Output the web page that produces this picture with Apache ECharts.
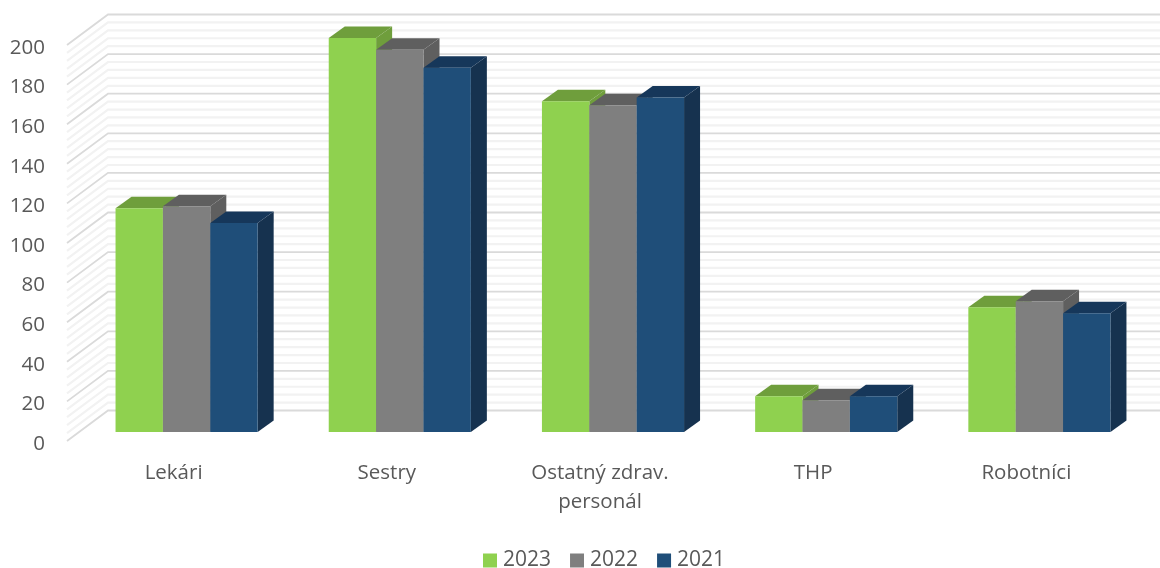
<!DOCTYPE html>
<html><head><meta charset="utf-8">
<script src="https://cdn.jsdelivr.net/npm/echarts@6/dist/echarts.min.js"></script>
<style>html,body{margin:0;padding:0;background:#fff}#c{width:1160px;height:568px}</style>
</head><body><div id="c"></div>
<script>
const categories = ['Lekári', 'Sestry', 'Ostatný zdrav.\npersonál', 'THP', 'Robotníci'];
const values2023 = [113, 199, 167, 18, 63];
const values2022 = [114, 193, 165, 16, 66];
const values2021 = [105.5, 184, 169, 18, 60];
const gridTicks = [0,4,8,12,16,20,24,28,32,36,40,44,48,52,56,60,64,68,72,76,80,84,88,92,96,100,
  104,108,112,116,120,124,128,132,136,140,144,148,152,156,160,164,168,172,176,180,184,188,192,196,200];

const WALL = {dx: 41, dy: -30.5};
const BAR = {dx: 13, dy: -9, depthX: 16, depthY: -11.5, widthFrac: 0.2222};
const FONT = '"Open Sans", sans-serif';
const TEXT = '#595959';

function wallSeries() {
  return {
    type: 'custom', name: 'wall', silent: true, z: 1, clip: false,
    legendHoverLink: false, tooltip: {show: false},
    encode: {y: 0},
    data: gridTicks.map(v => [v]),
    renderItem(params, api) {
      const v = api.value(0);
      const cs = params.coordSys;
      const y = api.coord([0, v])[1];
      const major = v % 20 === 0;
      return {
        type: 'polyline', silent: true,
        shape: {points: [[cs.x, y], [cs.x + WALL.dx, y + WALL.dy], [cs.x + cs.width + WALL.dx, y + WALL.dy]]},
        style: {fill: 'none', stroke: major ? '#dadada' : '#f2f2f2', lineWidth: major ? 1.8 : 2.2}
      };
    }
  };
}

function barSeries(name, values, index, front, top, side) {
  return {
    type: 'custom', name, z: 2 + index, clip: false,
    itemStyle: {color: front},
    encode: {x: 0, y: 1},
    data: values.map((v, i) => [i, v]),
    renderItem(params, api) {
      const base = api.coord([api.value(0), 0]);
      const peak = api.coord([api.value(0), api.value(1)]);
      const w = api.size([1, 0])[0] * BAR.widthFrac;
      const x0 = base[0] + BAR.dx - 1.5 * w + index * w;
      const x1 = x0 + w;
      const yb = base[1] + BAR.dy;
      const yt = peak[1] + BAR.dy;
      const dx = BAR.depthX, dy = BAR.depthY;
      return {
        type: 'group',
        children: [
          {type: 'polygon', shape: {points: [[x1, yb], [x1 + dx, yb + dy], [x1 + dx, yt + dy], [x1, yt]]}, style: {fill: side}},
          {type: 'polygon', shape: {points: [[x0, yt], [x0 + dx, yt + dy], [x1 + dx, yt + dy], [x1, yt]]}, style: {fill: top}},
          {type: 'rect', shape: {x: x0, y: yt, width: w, height: yb - yt}, style: {fill: front}}
        ]
      };
    }
  };
}

const chart = echarts.init(document.getElementById('c'), null, {renderer: 'canvas'});
chart.setOption({
  animation: false,
  backgroundColor: '#fff',
  grid: {left: 67, top: 45, width: 1066, height: 396, containLabel: false},
  legend: {
    left: 483, top: 550, padding: 0, itemWidth: 14, itemHeight: 14, itemGap: 19,
    icon: 'rect', data: ['2023', '2022', '2021'],
    textStyle: {color: TEXT, fontFamily: FONT, fontSize: 21, padding: [0, 0, 0, 1]}
  },
  xAxis: {
    type: 'category', data: categories,
    axisLine: {show: false}, axisTick: {show: false}, splitLine: {show: false},
    axisLabel: {color: TEXT, fontFamily: FONT, fontSize: 20.5, margin: 18, lineHeight: 29, interval: 0}
  },
  yAxis: {
    type: 'value', min: 0, max: 200, interval: 20,
    axisLine: {show: false}, axisTick: {show: false}, splitLine: {show: false},
    axisLabel: {color: TEXT, fontFamily: FONT, fontSize: 20.5, margin: 22, verticalAlign: 'top', lineHeight: 6}
  },
  series: [
    wallSeries(),
    barSeries('2023', values2023, 0, '#8fd14f', '#6f9e3c', '#6f9e3c'),
    barSeries('2022', values2022, 1, '#7f7f7f', '#5f5f5f', '#5f5f5f'),
    barSeries('2021', values2021, 2, '#1f4e79', '#16375a', '#16324f')
  ]
});
</script></body></html>
